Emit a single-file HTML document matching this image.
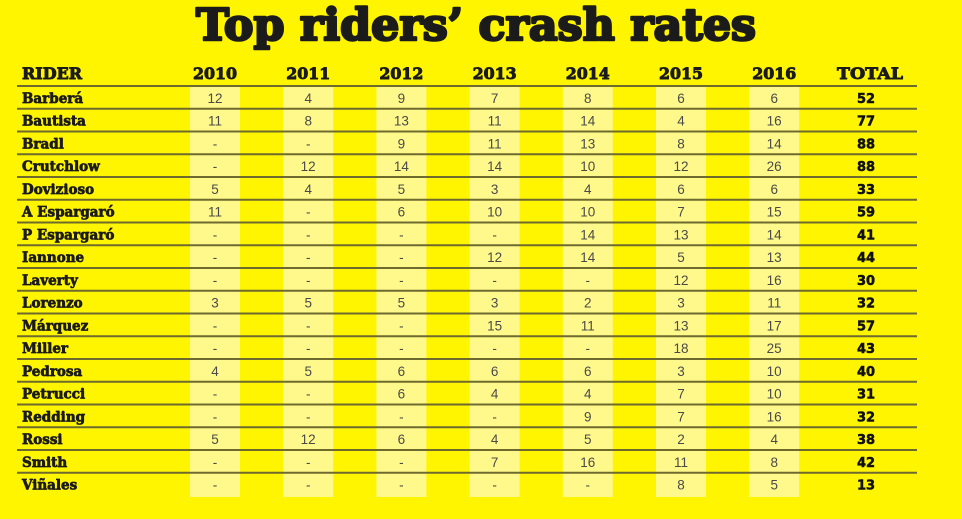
<!DOCTYPE html>
<html><head><meta charset="utf-8"><style>
html,body{margin:0;padding:0;background:#FFF500;}
svg{display:block}
.t{font-family:"DejaVu Serif","Liberation Serif",serif;font-weight:bold;fill:#1b1b1b;stroke:#1b1b1b;stroke-width:2.6;stroke-linejoin:round}
.h{font-family:"DejaVu Serif","Liberation Serif",serif;font-weight:bold;font-size:16px;fill:#1b1b1b;stroke:#1b1b1b;stroke-width:0.9;stroke-linejoin:round}
.n{font-family:"DejaVu Serif","Liberation Serif",serif;font-weight:bold;font-size:13.5px;fill:#1b1b1b;stroke:#1b1b1b;stroke-width:0.7;stroke-linejoin:round}
.v{font-family:"Liberation Sans",sans-serif;font-size:13.5px;fill:#4a4a4a;text-anchor:middle}
.tot{font-family:"DejaVu Sans","Liberation Sans",sans-serif;font-weight:bold;font-size:13px;fill:#111;stroke:#111;stroke-width:0.5;text-anchor:middle}
.c{text-anchor:middle}
</style></head><body>
<svg width="962" height="519" viewBox="0 0 962 519" xmlns="http://www.w3.org/2000/svg">
<rect width="962" height="519" fill="#FFF500"/>
<g fill="#FFF98C">
<rect x="190" y="87" width="50" height="410"/>
<rect x="283.2" y="87" width="50" height="410"/>
<rect x="376.4" y="87" width="50" height="410"/>
<rect x="469.6" y="87" width="50" height="410"/>
<rect x="562.8" y="87" width="50" height="410"/>
<rect x="656" y="87" width="50" height="410"/>
<rect x="749.2" y="87" width="50" height="410"/>
</g>
<g stroke="#6e6a2e" stroke-width="2">
<line x1="17" x2="917" y1="86" y2="86"/>
<line x1="17" x2="917" y1="108.75" y2="108.75"/>
<line x1="17" x2="917" y1="131.5" y2="131.5"/>
<line x1="17" x2="917" y1="154.25" y2="154.25"/>
<line x1="17" x2="917" y1="177" y2="177"/>
<line x1="17" x2="917" y1="199.75" y2="199.75"/>
<line x1="17" x2="917" y1="222.5" y2="222.5"/>
<line x1="17" x2="917" y1="245.25" y2="245.25"/>
<line x1="17" x2="917" y1="268" y2="268"/>
<line x1="17" x2="917" y1="290.75" y2="290.75"/>
<line x1="17" x2="917" y1="313.5" y2="313.5"/>
<line x1="17" x2="917" y1="336.25" y2="336.25"/>
<line x1="17" x2="917" y1="359" y2="359"/>
<line x1="17" x2="917" y1="381.75" y2="381.75"/>
<line x1="17" x2="917" y1="404.5" y2="404.5"/>
<line x1="17" x2="917" y1="427.25" y2="427.25"/>
<line x1="17" x2="917" y1="450" y2="450"/>
<line x1="17" x2="917" y1="472.75" y2="472.75"/>
</g>
<text class="t" x="196" y="40" font-size="44" textLength="560" lengthAdjust="spacingAndGlyphs">Top riders’ crash rates</text>
<g transform="translate(0,79)">
<text class="h" x="22" textLength="60" lengthAdjust="spacingAndGlyphs">RIDER</text>
<text class="h c" x="215" textLength="44" lengthAdjust="spacingAndGlyphs">2010</text>
<text class="h c" x="308.2" textLength="44" lengthAdjust="spacingAndGlyphs">2011</text>
<text class="h c" x="401.4" textLength="44" lengthAdjust="spacingAndGlyphs">2012</text>
<text class="h c" x="494.6" textLength="44" lengthAdjust="spacingAndGlyphs">2013</text>
<text class="h c" x="587.8" textLength="44" lengthAdjust="spacingAndGlyphs">2014</text>
<text class="h c" x="681" textLength="44" lengthAdjust="spacingAndGlyphs">2015</text>
<text class="h c" x="774.2" textLength="44" lengthAdjust="spacingAndGlyphs">2016</text>
<text class="h c" x="870" textLength="66" lengthAdjust="spacingAndGlyphs">TOTAL</text>
</g>

<g transform="translate(0,102.8)"><text class="n" x="22">Barberá</text><text class="v" x="215">12</text><text class="v" x="308.2">4</text><text class="v" x="401.4">9</text><text class="v" x="494.6">7</text><text class="v" x="587.8">8</text><text class="v" x="681">6</text><text class="v" x="774.2">6</text><text class="tot" x="866">52</text></g>
<g transform="translate(0,125.55)"><text class="n" x="22">Bautista</text><text class="v" x="215">11</text><text class="v" x="308.2">8</text><text class="v" x="401.4">13</text><text class="v" x="494.6">11</text><text class="v" x="587.8">14</text><text class="v" x="681">4</text><text class="v" x="774.2">16</text><text class="tot" x="866">77</text></g>
<g transform="translate(0,148.3)"><text class="n" x="22">Bradl</text><text class="v" x="215">-</text><text class="v" x="308.2">-</text><text class="v" x="401.4">9</text><text class="v" x="494.6">11</text><text class="v" x="587.8">13</text><text class="v" x="681">8</text><text class="v" x="774.2">14</text><text class="tot" x="866">88</text></g>
<g transform="translate(0,171.05)"><text class="n" x="22">Crutchlow</text><text class="v" x="215">-</text><text class="v" x="308.2">12</text><text class="v" x="401.4">14</text><text class="v" x="494.6">14</text><text class="v" x="587.8">10</text><text class="v" x="681">12</text><text class="v" x="774.2">26</text><text class="tot" x="866">88</text></g>
<g transform="translate(0,193.8)"><text class="n" x="22">Dovizioso</text><text class="v" x="215">5</text><text class="v" x="308.2">4</text><text class="v" x="401.4">5</text><text class="v" x="494.6">3</text><text class="v" x="587.8">4</text><text class="v" x="681">6</text><text class="v" x="774.2">6</text><text class="tot" x="866">33</text></g>
<g transform="translate(0,216.55)"><text class="n" x="22">A Espargaró</text><text class="v" x="215">11</text><text class="v" x="308.2">-</text><text class="v" x="401.4">6</text><text class="v" x="494.6">10</text><text class="v" x="587.8">10</text><text class="v" x="681">7</text><text class="v" x="774.2">15</text><text class="tot" x="866">59</text></g>
<g transform="translate(0,239.3)"><text class="n" x="22">P Espargaró</text><text class="v" x="215">-</text><text class="v" x="308.2">-</text><text class="v" x="401.4">-</text><text class="v" x="494.6">-</text><text class="v" x="587.8">14</text><text class="v" x="681">13</text><text class="v" x="774.2">14</text><text class="tot" x="866">41</text></g>
<g transform="translate(0,262.05)"><text class="n" x="22">Iannone</text><text class="v" x="215">-</text><text class="v" x="308.2">-</text><text class="v" x="401.4">-</text><text class="v" x="494.6">12</text><text class="v" x="587.8">14</text><text class="v" x="681">5</text><text class="v" x="774.2">13</text><text class="tot" x="866">44</text></g>
<g transform="translate(0,284.8)"><text class="n" x="22">Laverty</text><text class="v" x="215">-</text><text class="v" x="308.2">-</text><text class="v" x="401.4">-</text><text class="v" x="494.6">-</text><text class="v" x="587.8">-</text><text class="v" x="681">12</text><text class="v" x="774.2">16</text><text class="tot" x="866">30</text></g>
<g transform="translate(0,307.55)"><text class="n" x="22">Lorenzo</text><text class="v" x="215">3</text><text class="v" x="308.2">5</text><text class="v" x="401.4">5</text><text class="v" x="494.6">3</text><text class="v" x="587.8">2</text><text class="v" x="681">3</text><text class="v" x="774.2">11</text><text class="tot" x="866">32</text></g>
<g transform="translate(0,330.3)"><text class="n" x="22">Márquez</text><text class="v" x="215">-</text><text class="v" x="308.2">-</text><text class="v" x="401.4">-</text><text class="v" x="494.6">15</text><text class="v" x="587.8">11</text><text class="v" x="681">13</text><text class="v" x="774.2">17</text><text class="tot" x="866">57</text></g>
<g transform="translate(0,353.05)"><text class="n" x="22">Miller</text><text class="v" x="215">-</text><text class="v" x="308.2">-</text><text class="v" x="401.4">-</text><text class="v" x="494.6">-</text><text class="v" x="587.8">-</text><text class="v" x="681">18</text><text class="v" x="774.2">25</text><text class="tot" x="866">43</text></g>
<g transform="translate(0,375.8)"><text class="n" x="22">Pedrosa</text><text class="v" x="215">4</text><text class="v" x="308.2">5</text><text class="v" x="401.4">6</text><text class="v" x="494.6">6</text><text class="v" x="587.8">6</text><text class="v" x="681">3</text><text class="v" x="774.2">10</text><text class="tot" x="866">40</text></g>
<g transform="translate(0,398.55)"><text class="n" x="22">Petrucci</text><text class="v" x="215">-</text><text class="v" x="308.2">-</text><text class="v" x="401.4">6</text><text class="v" x="494.6">4</text><text class="v" x="587.8">4</text><text class="v" x="681">7</text><text class="v" x="774.2">10</text><text class="tot" x="866">31</text></g>
<g transform="translate(0,421.3)"><text class="n" x="22">Redding</text><text class="v" x="215">-</text><text class="v" x="308.2">-</text><text class="v" x="401.4">-</text><text class="v" x="494.6">-</text><text class="v" x="587.8">9</text><text class="v" x="681">7</text><text class="v" x="774.2">16</text><text class="tot" x="866">32</text></g>
<g transform="translate(0,444.05)"><text class="n" x="22">Rossi</text><text class="v" x="215">5</text><text class="v" x="308.2">12</text><text class="v" x="401.4">6</text><text class="v" x="494.6">4</text><text class="v" x="587.8">5</text><text class="v" x="681">2</text><text class="v" x="774.2">4</text><text class="tot" x="866">38</text></g>
<g transform="translate(0,466.8)"><text class="n" x="22">Smith</text><text class="v" x="215">-</text><text class="v" x="308.2">-</text><text class="v" x="401.4">-</text><text class="v" x="494.6">7</text><text class="v" x="587.8">16</text><text class="v" x="681">11</text><text class="v" x="774.2">8</text><text class="tot" x="866">42</text></g>
<g transform="translate(0,489.55)"><text class="n" x="22">Viñales</text><text class="v" x="215">-</text><text class="v" x="308.2">-</text><text class="v" x="401.4">-</text><text class="v" x="494.6">-</text><text class="v" x="587.8">-</text><text class="v" x="681">8</text><text class="v" x="774.2">5</text><text class="tot" x="866">13</text></g>
</svg>
</body></html>
